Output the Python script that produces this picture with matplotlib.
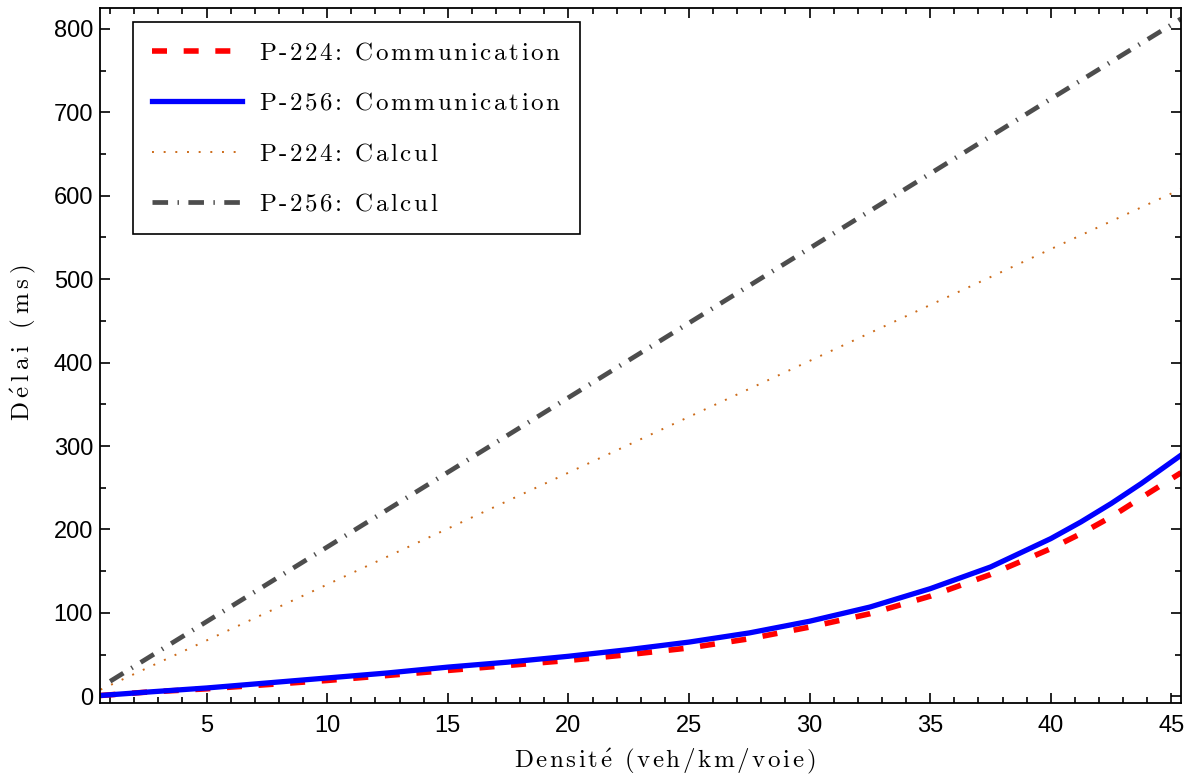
import numpy as np
import matplotlib
matplotlib.use("Agg")
import matplotlib.pyplot as plt

plt.rcParams['mathtext.fontset'] = 'cm'
plt.rcParams['font.family'] = ['Liberation Sans', 'DejaVu Sans']

# density (veh/km/voie)
density = [0.6, 2.5, 5, 7.5, 10, 12.5, 15, 17.5, 20, 22.5, 25, 27.5, 30,
           32.5, 35, 37.5, 40, 41.25, 42.5, 43.75, 45.4]
# communication delay (ms)
comm_224 = [1, 5, 9, 14, 19, 25, 31, 37, 43, 50, 58, 69, 83,
            99, 120, 146, 177, 195, 215, 238, 268]
comm_256 = [1, 5, 10, 16, 22, 28, 35, 41, 48, 56, 65, 76, 90,
            107, 129, 155, 189, 209, 231, 255, 289]

# computation delay (ms), linear
calc_x_224 = [0.6, 10, 20, 30, 40, 45.4]
calc_224 = [8, 134, 268, 402, 536, 608]
calc_x_256 = [1.0, 10, 20, 30, 40, 45.4]
calc_256 = [18, 179, 358, 537, 716, 812]

labels = ["P-224: Communication", "P-256: Communication",
          "P-224: Calcul", "P-256: Calcul"]


def spaced(s, gap=0.12):
    # latex-like text with loose letter spacing
    parts = []
    for ch in s:
        if ch == ' ':
            parts.append(r'\ ')
        elif ch == 'é':
            parts.append(r'\acute{e}')
        elif ch in '-:':
            parts.append(r'\text{%s}' % ch)
        else:
            parts.append(ch)
    sep = r'\hspace{%g}' % gap
    return r'$\mathrm{' + sep.join(parts) + '}$'


fig = plt.figure(figsize=(11.94, 7.78), dpi=100)
ax = fig.add_axes([100 / 1194, 1 - 703 / 778, 1081 / 1194, 695 / 778])

ax.plot(density, comm_224, color='red', lw=4, dashes=(2.7, 3.0), label=spaced(labels[0]))
ax.plot(density, comm_256, color='blue', lw=3.8, label=spaced(labels[1]))
ax.plot(calc_x_224, calc_224, color=(0.8, 0.42, 0.1), lw=1.4, dashes=(1.0, 5.0), label=spaced(labels[2]))
ax.plot(calc_x_256, calc_256, color=(0.3, 0.3, 0.3), lw=3.4, dashes=(3.3, 2.0, 0.3, 2.0),
        label=spaced(labels[3]))

ax.set_xlim(0.58, 45.4)
ax.set_ylim(-8, 825)
ax.set_xticks([5, 10, 15, 20, 25, 30, 35, 40, 45])
ax.set_xticks(np.arange(1, 46), minor=True)
ax.set_yticks(np.arange(0, 801, 100))
ax.set_yticks(np.arange(0, 826, 50), minor=True)
ax.tick_params(which='both', direction='in', top=True, right=True, labelsize=17, width=1.2)
ax.tick_params(which='major', length=7)
ax.tick_params(which='minor', length=4)
ax.tick_params(axis='x', pad=9)
ax.tick_params(axis='y', pad=5)
for sp in ax.spines.values():
    sp.set_linewidth(1.3)

ax.set_xlabel(spaced("Densité (veh/km/voie)"), fontsize=18)
ax.set_ylabel(spaced("Délai (ms)", gap=0.22), fontsize=18)
ax.xaxis.set_label_coords(0.5227, -0.063)
ax.yaxis.set_label_coords(-0.057, 0.519)

leg = ax.legend(loc='upper left', bbox_to_anchor=(133 / 1194, 1 - 22 / 778),
                bbox_transform=fig.transFigure, borderaxespad=0, fontsize=18,
                fancybox=False, edgecolor='black', framealpha=1, handlelength=3.6,
                labelspacing=1.05, borderpad=0.75, handletextpad=0.7)
leg.get_frame().set_linewidth(1.2)

fig.savefig("out.png", dpi=100)
